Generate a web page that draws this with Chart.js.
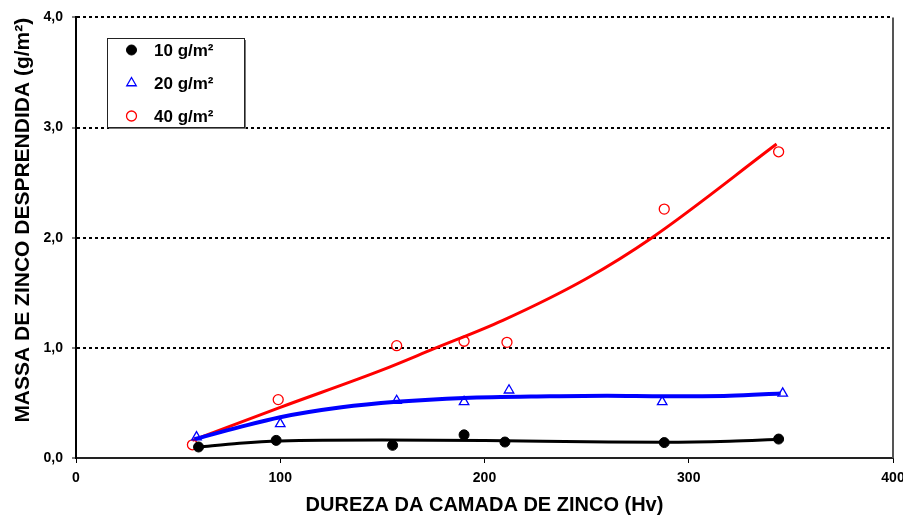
<!DOCTYPE html>
<html>
<head>
<meta charset="utf-8">
<script src="https://cdn.jsdelivr.net/npm/chart.js@4/dist/chart.umd.min.js"></script>
<style>
  html, body { margin: 0; padding: 0; background: #fff; }
  #wrap { width: 903px; height: 518px; position: relative; }
</style>
</head>
<body>
<div id="wrap"><canvas id="c" width="903" height="518"></canvas></div>
<script>
// Measured zinc loss vs. zinc coating hardness, three coating masses
const hardness10 = [60, 98, 155, 190, 210, 288, 344];
const mass10     = [0.10, 0.16, 0.115, 0.21, 0.145, 0.14, 0.172];
const hardness20 = [59, 100, 157, 190, 212, 287, 346];
const mass20     = [0.19, 0.31, 0.52, 0.51, 0.615, 0.51, 0.587];
const hardness40 = [57, 99, 157, 190, 211, 288, 344];
const mass40     = [0.12, 0.53, 1.02, 1.06, 1.05, 2.26, 2.78];

// Trend curves through each series
const trendX10 = [60, 80, 100, 150, 200, 250, 288, 320, 344];
const trendY10 = [0.10, 0.135, 0.155, 0.163, 0.158, 0.148, 0.142, 0.152, 0.17];
const trendX20 = [58, 80, 100, 130, 157, 190, 232, 260, 288, 320, 345];
const trendY20 = [0.17, 0.28, 0.37, 0.46, 0.51, 0.545, 0.56, 0.565, 0.56, 0.565, 0.585];
const trendX40 = [57, 100, 150, 175, 209, 250, 282, 343];
const trendY40 = [0.16, 0.46, 0.80, 0.99, 1.25, 1.63, 2.0, 2.85];

const seriesLabels = ['10 g/m²', '20 g/m²', '40 g/m²'];
const xTicks = [0, 100, 200, 300, 400];
const yTicks = [0, 1, 2, 3, 4];

const FONT = '"Liberation Sans", Arial, sans-serif';

const pairs = (xs, ys) => xs.map((x, i) => ({ x: x, y: ys[i] }));

const markerSets = [
  { label: seriesLabels[0], data: pairs(hardness10, mass10), pointStyle: 'circle',
    pointRadius: 5, pointBackgroundColor: '#000', pointBorderColor: '#000', pointBorderWidth: 1 },
  { label: seriesLabels[1], data: pairs(hardness20, mass20), pointStyle: 'triangle',
    pointRadius: 5.5, pointBackgroundColor: 'rgba(0,0,0,0)', pointBorderColor: '#0000ff', pointBorderWidth: 1.3 },
  { label: seriesLabels[2], data: pairs(hardness40, mass40), pointStyle: 'circle',
    pointRadius: 5, pointBackgroundColor: 'rgba(0,0,0,0)', pointBorderColor: '#ff0000', pointBorderWidth: 1.3 }
].map(d => Object.assign({ showLine: false, legendItem: true, pointHoverRadius: d.pointRadius }, d));

const trendSets = [
  { data: pairs(trendX10, trendY10), borderColor: '#000', borderWidth: 3 },
  { data: pairs(trendX20, trendY20), borderColor: '#0000ff', borderWidth: 4 },
  { data: pairs(trendX40, trendY40), borderColor: '#ff0000', borderWidth: 3 }
].map(d => Object.assign({ showLine: true, pointRadius: 0, cubicInterpolationMode: 'monotone', fill: false }, d));

function drawMarker(ctx, ds, x, y) {
  ctx.save();
  ctx.lineWidth = ds.pointBorderWidth;
  ctx.strokeStyle = ds.pointBorderColor;
  ctx.fillStyle = ds.pointBackgroundColor;
  const r = ds.pointRadius;
  ctx.beginPath();
  if (ds.pointStyle === 'triangle') {
    ctx.moveTo(x, y - r);
    ctx.lineTo(x + r * Math.sin(Math.PI / 3), y + r / 2);
    ctx.lineTo(x - r * Math.sin(Math.PI / 3), y + r / 2);
    ctx.closePath();
  } else {
    ctx.arc(x, y, r, 0, Math.PI * 2);
  }
  ctx.fill();
  ctx.stroke();
  ctx.restore();
}

// Boxed key inside the plot plus the right frame line
const framePlugin = {
  id: 'frameAndKey',
  afterDraw(chart) {
    const ctx = chart.ctx;
    const a = chart.chartArea;
    ctx.save();
    ctx.strokeStyle = '#555';
    ctx.lineWidth = 2;
    ctx.beginPath();
    ctx.moveTo(a.right, a.top);
    ctx.lineTo(a.right, a.bottom);
    ctx.stroke();

    const bx = 107, by = 38, bw = 137, bh = 89;
    ctx.fillStyle = '#777';
    ctx.fillRect(bx + 2, by + 2, bw, bh);
    ctx.fillStyle = '#fff';
    ctx.fillRect(bx, by, bw, bh);
    ctx.strokeStyle = '#222';
    ctx.lineWidth = 1;
    ctx.strokeRect(bx + 0.5, by + 0.5, bw, bh);

    const items = chart.data.datasets.filter(d => d.legendItem);
    const rows = [50, 83, 116];
    ctx.font = 'bold 17px ' + FONT;
    ctx.textBaseline = 'middle';
    ctx.textAlign = 'left';
    items.forEach((ds, i) => {
      drawMarker(ctx, ds, 131.5, rows[i]);
      ctx.fillStyle = '#000';
      ctx.fillText(ds.label, 154, rows[i] + 1);
    });
    ctx.restore();
  }
};

new Chart(document.getElementById('c'), {
  type: 'scatter',
  data: { datasets: markerSets.concat(trendSets) },
  plugins: [framePlugin],
  options: {
    responsive: false,
    animation: false,
    layout: { padding: { left: 0, right: 0, top: 17, bottom: 0 } },
    plugins: { legend: { display: false }, tooltip: { enabled: false } },
    scales: {
      x: {
        type: 'linear',
        min: 0, max: 400,
        afterBuildTicks: s => { s.ticks = xTicks.map(v => ({ value: v })); },
        afterFit: s => { s.height = 60; s.paddingLeft = 0; s.paddingRight = 10; },
        grid: { drawOnChartArea: false, drawTicks: true, tickLength: 5, tickColor: '#000', tickWidth: 1 },
        border: { display: true, color: '#222', width: 2 },
        ticks: { color: '#000', padding: 7, font: { family: FONT, size: 14, weight: 'bold' },
                 maxRotation: 0, callback: v => String(v) },
        title: { display: true, text: 'DUREZA DA CAMADA DE ZINCO (Hv)', color: '#000',
                 font: { family: FONT, size: 20, weight: 'bold' }, padding: { top: 0, bottom: 1 } }
      },
      y: {
        type: 'linear',
        min: 0, max: 4,
        afterBuildTicks: s => { s.ticks = yTicks.map(v => ({ value: v })); },
        afterFit: s => { s.width = 76; },
        grid: {
          drawTicks: true, tickLength: 4, tickColor: '#000', tickWidth: 1, tickBorderDash: [],
          color: ctx => (ctx.tick && ctx.tick.value === 0) ? 'rgba(0,0,0,0)' : '#000',
          lineWidth: 2
        },
        border: { display: true, color: '#000', width: 2, dash: [3, 3] },
        ticks: { color: '#000', padding: 9, font: { family: FONT, size: 14, weight: 'bold' },
                 callback: v => v.toFixed(1).replace('.', ',') },
        title: { display: true, text: '      MASSA DE ZINCO DESPRENDIDA (g/m²)', color: '#000',
                 font: { family: FONT, size: 21, weight: 'bold' }, padding: { top: 11, bottom: 0 } }
      }
    }
  }
});
</script>
</body>
</html>
